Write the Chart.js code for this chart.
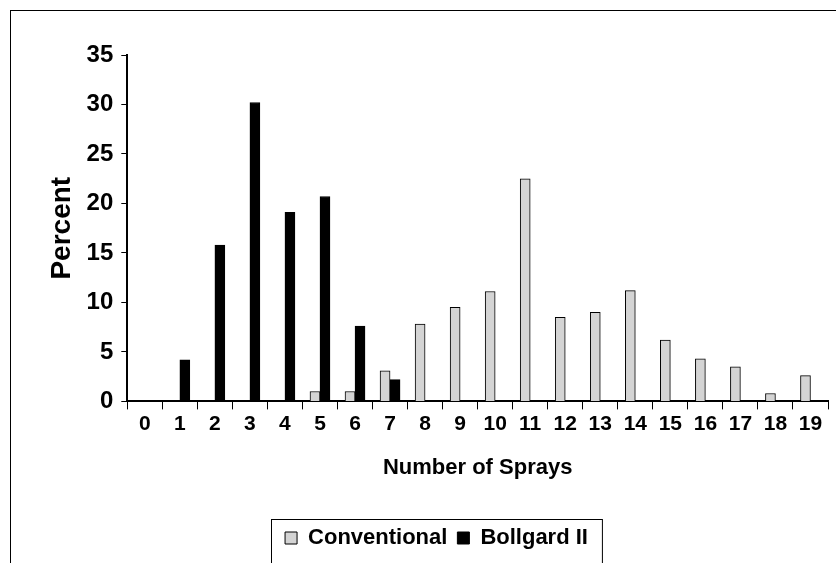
<!DOCTYPE html>
<html>
<head>
<meta charset="utf-8">
<script src="https://cdn.jsdelivr.net/npm/chart.js@4/dist/chart.umd.min.js"></script>
<style>
  html, body { margin: 0; padding: 0; background: #fff; }
  #wrap { position: absolute; left: 10px; top: 10px; width: 826px; height: 553px;
          border-left: 1px solid #000; border-top: 1px solid #000; box-sizing: border-box; }
</style>
</head>
<body>
<div id="wrap"><canvas id="chart"></canvas></div>
<script>
// --- DATI ---
const sprays = ['0','1','2','3','4','5','6','7','8','9','10','11','12','13','14','15','16','17','18','19'];
const conventional = [0, 0, 0, 0, 0, 1.0, 1.0, 3.1, 7.8, 9.5, 11.1, 22.5, 8.5, 9.0, 11.2, 6.2, 4.3, 3.5, 0.8, 2.6];
const bollgard = [0, 4.2, 15.8, 30.2, 19.1, 20.7, 7.6, 2.2, 0, 0, 0, 0, 0, 0, 0, 0, 0, 0, 0, 0];
const yTicks = [0, 5, 10, 15, 20, 25, 30, 35];
const FONT = "'Liberation Sans', Arial";

// bordo attorno alle voci della legenda
const legendBox = {
  id: 'legendBox',
  afterDraw(chart) {
    const boxes = chart.legend.legendHitBoxes;
    if (!boxes || !boxes.length) return;
    const left = Math.min(...boxes.map(b => b.left)) - 14;
    const right = Math.max(...boxes.map(b => b.left + b.width)) + 14;
    const top = Math.min(...boxes.map(b => b.top)) - 8;
    const ctx = chart.ctx;
    ctx.save();
    ctx.strokeStyle = '#000';
    ctx.lineWidth = 1;
    ctx.strokeRect(Math.round(left) + 0.5, Math.round(top) + 0.5, right - left, 60);
    ctx.restore();
  }
};

new Chart(document.getElementById('chart'), {
  type: 'bar',
  data: {
    labels: sprays,
    datasets: [
      { label: 'Conventional', data: conventional, backgroundColor: '#d4d4d4',
        borderColor: '#000', borderWidth: 1, barThickness: 10 },
      { label: 'Bollgard II', data: bollgard, backgroundColor: '#000',
        borderColor: '#000', borderWidth: 1, barThickness: 10 }
    ]
  },
  options: {
    responsive: true,
    maintainAspectRatio: false,
    animation: false,
    layout: { padding: { top: 44, right: 8, left: 34, bottom: 4 } },
    plugins: {
      legend: {
        position: 'bottom',
        labels: {
          boxWidth: 12, boxHeight: 12, padding: 10, color: '#000',
          font: { family: FONT, size: 22, weight: 'bold' }
        }
      },
      tooltip: { enabled: false }
    },
    scales: {
      x: {
        grid: { display: true, drawOnChartArea: false, offset: true, color: '#000', tickLength: 8 },
        border: { color: '#000', width: 2 },
        ticks: { color: '#000', padding: 2, font: { family: FONT, size: 21, weight: 'bold' } },
        title: { display: true, text: 'Number of Sprays', color: '#000', padding: { top: 16, bottom: 36 },
                 font: { family: FONT, size: 22, weight: 'bold' } }
      },
      y: {
        min: 0, max: 35,
        afterBuildTicks: axis => { axis.ticks = yTicks.map(v => ({ value: v })); },
        grid: { display: true, drawOnChartArea: false, color: '#000', tickLength: 6 },
        border: { color: '#000', width: 2 },
        ticks: { color: '#000', padding: 8, font: { family: FONT, size: 24, weight: 'bold' } },
        title: { display: true, text: 'Percent', color: '#000', padding: 0,
                 font: { family: FONT, size: 28, weight: 'bold' } }
      }
    }
  },
  plugins: [legendBox]
});
</script>
</body>
</html>
